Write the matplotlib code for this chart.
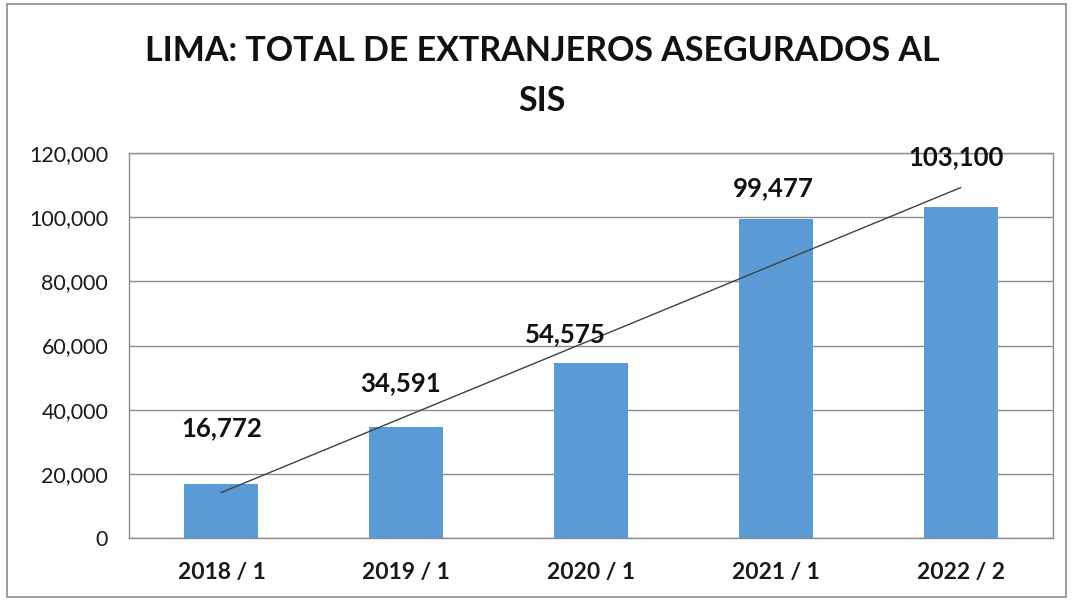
import matplotlib
matplotlib.use("Agg")
import matplotlib.pyplot as plt
import numpy as np
from matplotlib.patches import Rectangle

categories = ["2018 / 1", "2019 / 1", "2020 / 1", "2021 / 1", "2022 / 2"]
values = [16772, 34591, 54575, 99477, 103100]
yticks = [0, 20000, 40000, 60000, 80000, 100000, 120000]
title = "LIMA: TOTAL DE EXTRANJEROS ASEGURADOS AL\nSIS"

# label offsets in pixels (dx, dy above bar top)
label_offsets = [(0, 56), (-6, 44), (-26, 29), (-2, 31), (-5, 50)]

plt.rcParams['font.family'] = ['Lato', 'DejaVu Sans']

fig = plt.figure(figsize=(10.73, 6.01), dpi=100)
W, H = 1073, 601
ax = fig.add_axes([129 / W, 1 - 538 / H, (1053 - 129) / W, (538 - 153) / H])

x = np.arange(len(categories))
ax.bar(x, values, width=0.4, color="#5B9BD5", zorder=3)

# linear trendline
coef = np.polyfit(x, values, 1)
ax.plot(x, np.polyval(coef, x), color="#404040", lw=1.0, zorder=4)

ax.set_xlim(-0.5, len(categories) - 0.5)
ax.set_ylim(0, 120000)
ax.set_yticks(yticks)
ax.set_yticklabels([f"{v:,}" for v in yticks], fontsize=15.5, color="#1a1a1a")
ax.set_xticks(x)
ax.set_xticklabels(categories, fontsize=16.5, fontweight="bold", color="#1a1a1a")
ax.tick_params(axis="both", length=0)
ax.tick_params(axis="y", pad=15)
ax.tick_params(axis="x", pad=17)
ax.grid(axis="y", color="#8c8c8c", lw=1.0, zorder=0)
for s in ax.spines.values():
    s.set_color("#8c8c8c")
    s.set_linewidth(1.0)

for xi, v, (dx, dy) in zip(x, values, label_offsets):
    ax.annotate(f"{v:,}", (xi, v), xytext=(dx, dy), textcoords="offset pixels",
                ha="center", va="center", fontsize=18.5, fontweight="bold", color="#111111", zorder=5)

fig.text(542 / W, 1 - 76 / H, title, ha="center", va="center", fontsize=24.5,
         fontweight="bold", color="#111111", linespacing=1.68)

fig.patches.append(Rectangle((7 / W, 1 - 597 / H), (1066 - 7) / W, (597 - 4) / H,
                             transform=fig.transFigure, fill=False, edgecolor="#8c8c8c", lw=1.2))

fig.savefig("out.png", dpi=100, facecolor="white")
